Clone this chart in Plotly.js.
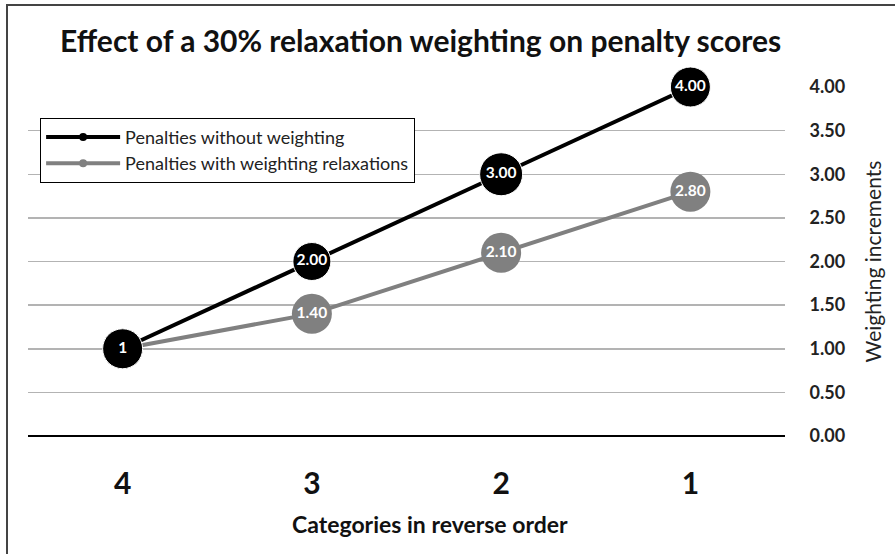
<!DOCTYPE html>
<html>
<head>
<meta charset="utf-8">
<script src="https://cdn.plot.ly/plotly-3.0.1.min.js"></script>
<style>
  html, body { margin: 0; padding: 0; background: #fff; }
  #wrap { position: relative; width: 895px; height: 554px; }
  #chart { width: 895px; height: 554px; }
  #frame { position: absolute; left: 6px; top: 4px; width: 889px; height: 550px;
           border-left: 2px solid #444; border-top: 2px solid #444; pointer-events: none; box-sizing: border-box; }
</style>
</head>
<body>
<div id="wrap"><div id="chart"></div><div id="frame"></div></div>
<script>
const categories = ['4', '3', '2', '1'];
const withoutWeighting = [1, 2, 3, 4];
const withWeighting = [1, 1.4, 2.1, 2.8];
const withoutLabels = ['1', '2.00', '3.00', '4.00'];
const withLabels = ['', '1.40', '2.10', '2.80'];
const yTickVals = [0, 0.5, 1, 1.5, 2, 2.5, 3, 3.5, 4];
const yTickText = ['0.00', '0.50', '1.00', '1.50', '2.00', '2.50', '3.00', '3.50', '4.00'];
const seriesNames = ['Penalties without weighting', 'Penalties with weighting relaxations'];

const FONT = 'Lato, "Open Sans", sans-serif';
const BLACK = '#000000';
const GRAY = '#808080';

const traces = [
  {
    x: categories, y: withWeighting, text: withLabels,
    type: 'scatter', mode: 'lines+markers+text', showlegend: false,
    line: { color: GRAY, width: 4 },
    marker: { color: GRAY, size: 40, opacity: 1 },
    textposition: 'middle center',
    textfont: { family: FONT, size: 15.5, color: '#ffffff', weight: 'bold' },
    cliponaxis: false, hoverinfo: 'skip'
  },
  {
    x: categories, y: withoutWeighting, text: withoutLabels,
    type: 'scatter', mode: 'lines+markers+text', showlegend: false,
    line: { color: BLACK, width: 4 },
    marker: { color: BLACK, size: [40, 38, 43, 40], opacity: 1 },
    textposition: 'middle center',
    textfont: { family: FONT, size: 15.5, color: '#ffffff', weight: 'bold' },
    cliponaxis: false, hoverinfo: 'skip'
  },
  {
    x: [null], y: [null], name: seriesNames[0], type: 'scatter', mode: 'lines+markers',
    line: { color: BLACK, width: 4 }, marker: { color: BLACK, size: 8 }
  },
  {
    x: [null], y: [null], name: seriesNames[1], type: 'scatter', mode: 'lines+markers',
    line: { color: GRAY, width: 4 }, marker: { color: GRAY, size: 8 }
  }
];

const layout = {
  width: 895, height: 554,
  paper_bgcolor: '#ffffff', plot_bgcolor: '#ffffff',
  margin: { l: 28, r: 110, t: 87, b: 118 },
  font: { family: FONT, color: '#1a1a1a' },
  title: {
    text: 'Effect of a 30% relaxation weighting on penalty scores',
    font: { family: FONT, size: 30, color: '#111111', weight: 'bold' },
    x: 0.47, xanchor: 'center', y: 0.925, yanchor: 'middle'
  },
  showlegend: true,
  legend: {
    x: 0.016, xanchor: 'left', y: 0.912, yanchor: 'top',
    bordercolor: '#000000', borderwidth: 1, bgcolor: '#ffffff',
    font: { family: FONT, size: 18, color: '#222222' },
    itemwidth: 74, tracegroupgap: 0
  },
  xaxis: {
    type: 'category', range: [-0.5, 3.5], fixedrange: true,
    showgrid: false, zeroline: false, showline: false,
    ticks: 'outside', ticklen: 21, tickcolor: 'rgba(0,0,0,0)',
    tickfont: { family: FONT, size: 30, color: '#111111', weight: 'bold' }
  },
  yaxis: {
    side: 'right', range: [0, 4], fixedrange: true,
    tickvals: yTickVals, ticktext: yTickText,
    showgrid: true, gridcolor: '#b3b3b3', gridwidth: 1.5,
    zeroline: true, zerolinecolor: '#000000', zerolinewidth: 2,
    showline: false,
    ticks: 'outside', ticklen: 20, tickcolor: 'rgba(0,0,0,0)',
    tickfont: { family: FONT, size: 18, color: '#222222', weight: 'bold' },
    title: { text: 'Weighting increments', font: { family: FONT, size: 21, color: '#222222' }, standoff: 22 }
  },
  annotations: [
    {
      text: 'Categories in reverse order', xref: 'paper', yref: 'paper',
      x: 0.531, y: -0.252, xanchor: 'center', yanchor: 'middle', showarrow: false,
      font: { family: FONT, size: 23, color: '#111111', weight: 'bold' }
    }
  ]
};

Plotly.newPlot('chart', traces, layout, { displayModeBar: false, staticPlot: true });
</script>
</body>
</html>
